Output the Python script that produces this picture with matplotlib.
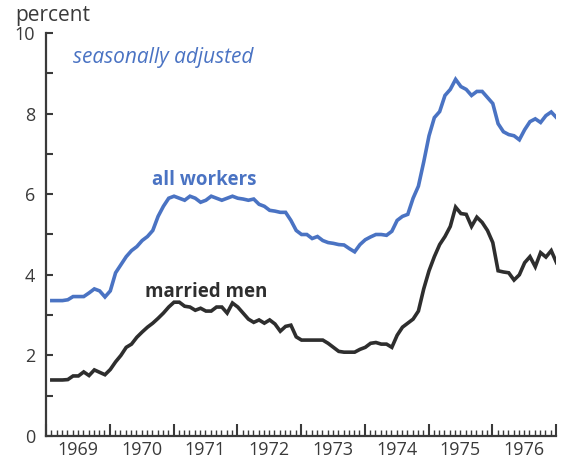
import numpy as np
import matplotlib
matplotlib.use("Agg")
import matplotlib.pyplot as plt
from matplotlib.ticker import MultipleLocator, FixedLocator, NullFormatter, FixedFormatter

# monthly unemployment rates, Jan 1969 .. Dec 1976 (percent, seasonally adjusted)
all_workers = [
    3.36, 3.36, 3.36, 3.38, 3.46, 3.46, 3.46, 3.55, 3.65, 3.60, 3.45, 3.60,
    4.05, 4.25, 4.45, 4.60, 4.70, 4.85, 4.95, 5.10, 5.45, 5.70, 5.90, 5.95,
    5.90, 5.85, 5.95, 5.90, 5.80, 5.85, 5.95, 5.90, 5.85, 5.90, 5.95, 5.90,
    5.88, 5.85, 5.88, 5.75, 5.70, 5.60, 5.58, 5.55, 5.55, 5.35, 5.10, 5.00,
    5.00, 4.90, 4.95, 4.85, 4.80, 4.78, 4.75, 4.74, 4.65, 4.57, 4.75, 4.87,
    4.94, 5.00, 5.00, 4.98, 5.08, 5.35, 5.45, 5.50, 5.90, 6.20, 6.80, 7.45,
    7.90, 8.05, 8.45, 8.60, 8.85, 8.67, 8.60, 8.45, 8.55, 8.55, 8.40, 8.25,
    7.75, 7.55, 7.48, 7.45, 7.35, 7.60, 7.80, 7.87, 7.78, 7.95, 8.04, 7.90,
]
married_men = [
    1.39, 1.39, 1.39, 1.40, 1.49, 1.49, 1.59, 1.50, 1.64, 1.58, 1.52, 1.65,
    1.84, 2.00, 2.20, 2.28, 2.45, 2.58, 2.70, 2.80, 2.92, 3.05, 3.20, 3.32,
    3.32, 3.22, 3.20, 3.12, 3.17, 3.10, 3.10, 3.20, 3.20, 3.05, 3.30, 3.20,
    3.05, 2.90, 2.82, 2.88, 2.80, 2.88, 2.78, 2.60, 2.72, 2.75, 2.46, 2.38,
    2.38, 2.38, 2.38, 2.38, 2.30, 2.20, 2.10, 2.08, 2.08, 2.08, 2.15, 2.20,
    2.30, 2.32, 2.28, 2.28, 2.20, 2.50, 2.70, 2.80, 2.90, 3.10, 3.65, 4.10,
    4.45, 4.75, 4.95, 5.20, 5.68, 5.52, 5.50, 5.20, 5.43, 5.30, 5.10, 4.80,
    4.10, 4.07, 4.05, 3.87, 4.00, 4.30, 4.45, 4.20, 4.55, 4.44, 4.60, 4.30,
]
years = [1969, 1970, 1971, 1972, 1973, 1974, 1975, 1976]
y_labels = ["0", "2", "4", "6", "8", "10"]

BLUE = "#4a73c3"
DARK = "#2e2e2e"
GREY = "#3a3a3a"

plt.rcParams["font.family"] = ["Open Sans", "DejaVu Sans"]

months = np.arange(len(all_workers))
x = years[0] + (months + 1.1) / 12.0

fig = plt.figure(figsize=(5.68, 4.61), dpi=100)
ax = fig.add_axes([46 / 568, 25 / 461, (556 - 46) / 568, (436 - 33) / 461])

ax.plot(x, all_workers, color=BLUE, lw=2.6, solid_joinstyle="miter")
ax.plot(x, married_men, color=DARK, lw=2.6, solid_joinstyle="miter")

ax.set_xlim(years[0], years[-1] + 1)
ax.set_ylim(0, 10)

for s in ["top", "right"]:
    ax.spines[s].set_visible(False)
for s in ["left", "bottom"]:
    ax.spines[s].set_color(GREY)
    ax.spines[s].set_linewidth(1.6)

# y axis: ticks every unit, labels on even numbers
ax.yaxis.set_major_locator(FixedLocator([0, 2, 4, 6, 8, 10]))
ax.yaxis.set_major_formatter(FixedFormatter(y_labels))
ax.yaxis.set_minor_locator(MultipleLocator(1))
ax.tick_params(axis="y", which="both", direction="in", length=5, width=1.5,
               color=GREY, labelsize=13, labelcolor=GREY, pad=8)

# x axis: year boundaries as major ticks, months as minor ticks, labels centred
ax.xaxis.set_major_locator(FixedLocator(years + [years[-1] + 1]))
ax.xaxis.set_major_formatter(NullFormatter())
ax.xaxis.set_minor_locator(MultipleLocator(1 / 12))
ax.tick_params(axis="x", which="major", direction="in", length=9, width=1.5, color=GREY)
ax.tick_params(axis="x", which="minor", direction="in", length=4, width=1.0, color=GREY)
for yr in years:
    ax.text(yr + 0.5, -0.12, str(yr), ha="center", va="top", fontsize=13, color=GREY)

ax.text(1969.42, 9.4, "seasonally adjusted", color=BLUE, fontsize=15,
        style="italic", ha="left", va="center")
ax.text(1970.67, 6.35, "all workers", color=BLUE, fontsize=13.5,
        fontweight="bold", ha="left", va="center")
ax.text(1970.56, 3.57, "married men", color=DARK, fontsize=13.5,
        fontweight="bold", ha="left", va="center")

fig.text(15 / 568, 1 - 16 / 461, "percent", fontsize=15, color=GREY,
         ha="left", va="center")

fig.savefig("out.png", dpi=100)
